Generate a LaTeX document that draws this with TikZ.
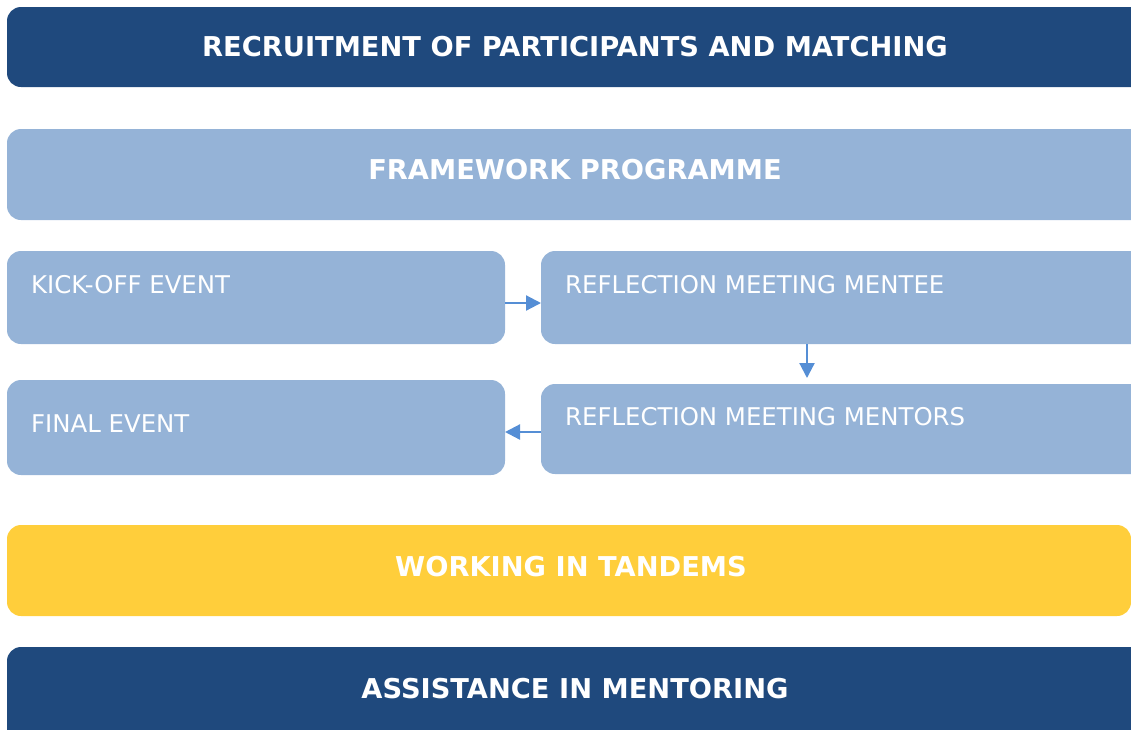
\documentclass[tikz,border=0pt]{standalone}
\usepackage{fontspec}
\setmainfont{DejaVu Sans}
\usetikzlibrary{arrows.meta}
\definecolor{dblue}{HTML}{1F497D}
\definecolor{lblue}{HTML}{95B3D7}
\definecolor{ayellow}{HTML}{FFCE3B}
\definecolor{arr}{HTML}{558ED5}
\tikzset{
  bar/.style={rounded corners=14pt, inner sep=0pt},
  head/.style={text=white, inner sep=0pt, font=\fontsize{27.3}{32}\selectfont\bfseries},
  sub/.style={text=white, inner sep=0pt, font=\fontsize{24.4}{29}\selectfont, anchor=base west},
  flow/.style={draw=arr, line width=2.2pt, -{Triangle[length=15pt,width=15pt]}}
}
\begin{document}
\begin{tikzpicture}[x=1pt,y=-1pt]
\useasboundingbox (0,0) rectangle (1131,729);
\clip (0,0) rectangle (1131,729);
% bars
\fill[dblue, bar] (7,7) rectangle (1150,87);
\node[head] (rec) at (575,47) {RECRUITMENT OF PARTICIPANTS AND MATCHING};
\fill[lblue, bar] (7,129) rectangle (1150,220);
\node[head] (fw) at (575,170) {FRAMEWORK PROGRAMME};
% small boxes
\fill[lblue, bar] (7,251) rectangle (505,344);
\coordinate (kickR) at (505,303);
\fill[lblue, bar] (541,251) rectangle (1150,344);
\coordinate (menteeL) at (541,303);
\coordinate (menteeB) at (807,344);
\fill[lblue, bar] (7,380) rectangle (505,475);
\coordinate (finalR) at (505,432);
\fill[lblue, bar] (541,384) rectangle (1150,474);
\coordinate (mentorsL) at (541,432);
\coordinate (mentorsT) at (807,378);
\node[sub] (kick) at (31,293) {KICK-OFF EVENT};
\node[sub] (mentee) at (565,293) {REFLECTION MEETING MENTEE};
\node[sub] (mentors) at (565,425) {REFLECTION MEETING MENTORS};
\node[sub] (final) at (31,432) {FINAL EVENT};
% arrows
\draw[flow] (kickR) -- (menteeL);
\draw[flow] (menteeB) -- (mentorsT);
\draw[flow] (mentorsL) -- (finalR);
% bottom
\fill[ayellow, bar] (7,525) rectangle (1131,616);
\node[head] (tan) at (571,567) {WORKING IN TANDEMS};
\fill[dblue, bar] (7,647) rectangle (1150,760);
\node[head] (ass) at (575,689) {ASSISTANCE IN MENTORING};
\end{tikzpicture}
\end{document}
